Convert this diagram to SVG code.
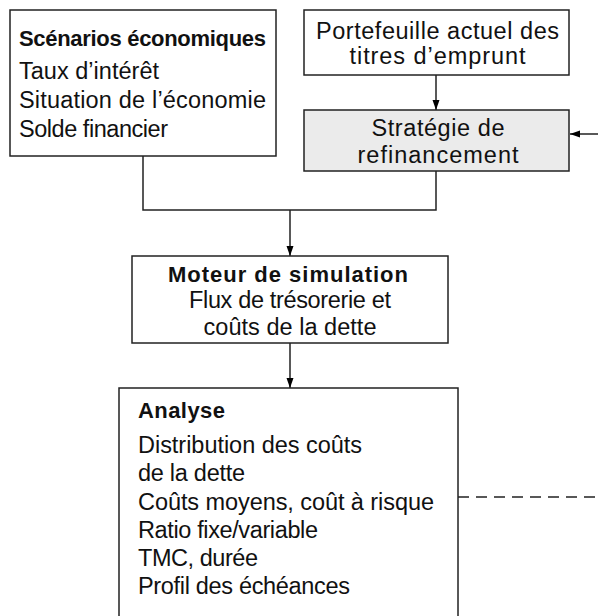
<svg xmlns="http://www.w3.org/2000/svg" width="598" height="616" viewBox="0 0 598 616">
<defs>
<marker id="ah" viewBox="0 0 10 10" refX="10" refY="5" markerWidth="10" markerHeight="10" markerUnits="userSpaceOnUse" orient="auto">
<path d="M0,1.5 L10,5 L0,8.5 Z" fill="#000"/>
</marker>
<style>
.box{fill:#fff;stroke:#222;stroke-width:1.5}
.gray{fill:#ebebeb}
.t{font-family:"Liberation Sans",Arial,sans-serif;font-size:23.5px;fill:#111}
.b{font-weight:bold;font-size:22px}
.c{text-anchor:middle}
.ln{fill:none;stroke:#222;stroke-width:1.5}
.dash{stroke-dasharray:11 7}
</style>
</defs>
<g id="connectors">
<polyline class="ln" points="143,156 143,210 436,210 436,171"/>
<line class="ln" x1="290" y1="210" x2="290" y2="256" marker-end="url(#ah)"/>
<line class="ln" x1="436" y1="75" x2="436" y2="110" marker-end="url(#ah)"/>
<line class="ln" x1="598" y1="134" x2="570" y2="134" marker-end="url(#ah)"/>
<line class="ln" x1="290" y1="343" x2="290" y2="388" marker-end="url(#ah)"/>
<line class="ln dash" x1="458" y1="497" x2="598" y2="497"/>
</g>
<g id="scenarios">
<rect class="box" x="10" y="10" width="266" height="146"/>
<text class="t b" x="19" y="46" textLength="247">Scénarios économiques</text>
<text class="t" x="19" y="79" textLength="140">Taux d’intérêt</text>
<text class="t" x="19" y="108" textLength="247">Situation de l’économie</text>
<text class="t" x="19" y="137" textLength="149">Solde financier</text>
</g>
<g id="portefeuille">
<rect class="box" x="304" y="10" width="265" height="65"/>
<text class="t c" x="437.5" y="39" textLength="243">Portefeuille actuel des</text>
<text class="t c" x="437.5" y="64" textLength="176">titres d’emprunt</text>
</g>
<g id="strategie">
<rect class="box gray" x="304" y="110" width="265" height="61"/>
<text class="t c" x="438" y="136" textLength="133">Stratégie de</text>
<text class="t c" x="438" y="163" textLength="161">refinancement</text>
</g>
<g id="moteur">
<rect class="box" x="132" y="256" width="316" height="87"/>
<text class="t b c" x="288" y="282" textLength="240">Moteur de simulation</text>
<text class="t c" x="290" y="308" textLength="202">Flux de trésorerie et</text>
<text class="t c" x="290" y="335" textLength="173">coûts de la dette</text>
</g>
<g id="analyse">
<rect class="box" x="119" y="388" width="339" height="240"/>
<text class="t b" x="138" y="418" textLength="87">Analyse</text>
<text class="t" x="138" y="453" textLength="224">Distribution des coûts</text>
<text class="t" x="138" y="481" textLength="107">de la dette</text>
<text class="t" x="138" y="510" textLength="296">Coûts moyens, coût à risque</text>
<text class="t" x="138" y="538" textLength="180">Ratio fixe/variable</text>
<text class="t" x="138" y="566" textLength="120">TMC, durée</text>
<text class="t" x="138" y="594" textLength="212">Profil des échéances</text>
</g>
</svg>
